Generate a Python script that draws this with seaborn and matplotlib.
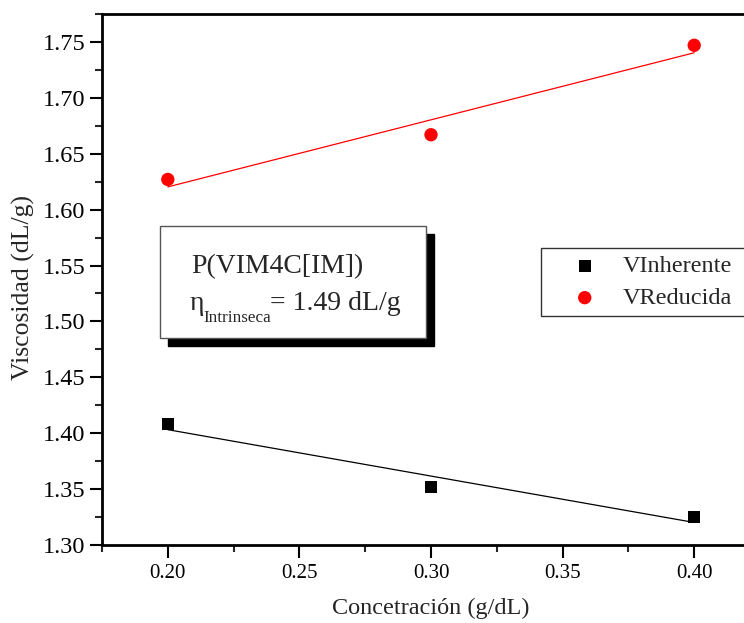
import numpy as np
import pandas as pd
import seaborn as sns
import matplotlib
matplotlib.use("Agg")
import matplotlib.pyplot as plt
from matplotlib.patches import Rectangle
from matplotlib.ticker import MultipleLocator

conc = [0.20, 0.30, 0.40]
v_inherente = [1.408, 1.352, 1.325]
v_reducida = [1.627, 1.667, 1.747]
series_names = ["VInherente", "VReducida"]
x_ticks = [0.20, 0.25, 0.30, 0.35, 0.40]
y_ticks = [1.30, 1.35, 1.40, 1.45, 1.50, 1.55, 1.60, 1.65, 1.70, 1.75]

sns.set_style("white")
plt.rcParams["font.family"] = ["Liberation Serif", "DejaVu Serif"]

fig = plt.figure(figsize=(7.44, 6.23), dpi=100)
W, H = 744, 623
ax = fig.add_axes([102 / W, (623 - 545) / H, 658 / W, 531 / H])

sns.scatterplot(x=conc, y=v_inherente, marker="s", color="black", s=78,
                edgecolor="none", label=series_names[0], ax=ax, zorder=3)
sns.scatterplot(x=conc, y=v_reducida, marker="o", color="#ff0000", s=92,
                edgecolor="none", label=series_names[1], ax=ax, zorder=3)
sns.regplot(x=conc, y=v_inherente, scatter=False, ci=None, ax=ax,
            line_kws={"color": "black", "lw": 0.9})
sns.regplot(x=conc, y=v_reducida, scatter=False, ci=None, ax=ax,
            line_kws={"color": "#ff0000", "lw": 0.9})

ax.set_xlim(0.175, 0.425)
ax.set_ylim(1.30, 1.775)
ax.set_xticks(x_ticks)
ax.set_xticklabels([f"{v:.2f}" for v in x_ticks])
ax.set_yticks(y_ticks)
ax.set_yticklabels([f"{v:.2f}" for v in y_ticks])
ax.xaxis.set_minor_locator(MultipleLocator(0.025))
ax.yaxis.set_minor_locator(MultipleLocator(0.025))
ax.tick_params(axis="both", which="major", direction="out", length=9, width=1.5,
               colors="black", left=True, bottom=True)
ax.tick_params(axis="y", which="major", labelsize=17.5, pad=3)
ax.tick_params(axis="x", which="major", labelsize=15, pad=5)
ax.tick_params(axis="both", which="minor", direction="out", length=5, width=1.5,
               left=True, bottom=True)
for s in ax.spines.values():
    s.set_linewidth(2)
    s.set_color("black")

ax.set_xlabel("Concetración (g/dL)", fontsize=17.5, labelpad=10)
ax.set_ylabel("Viscosidad (dL/g)", fontsize=18.5)
ax.yaxis.set_label_coords((35 - 102) / 658, (545 - 287) / 531)

lx0 = (541 - 102) / 658
ltop = (545 - 248) / 531
leg = ax.legend(loc="upper left", bbox_to_anchor=(lx0, ltop - 0.2, (775 - 541) / 658, 0.2),
                mode="expand", frameon=True, fontsize=17.5, fancybox=False,
                borderpad=0.3, handlelength=3.0, handletextpad=0.05,
                labelspacing=0.4, borderaxespad=0)
leg.get_frame().set_edgecolor("black")
leg.get_frame().set_linewidth(1)

# annotation box with shadow
bx0, bx1 = (160 - 102) / 658, (426 - 102) / 658
by0, by1 = (545 - 338) / 531, (545 - 226) / 531
dx, dy = 8 / 658, 8 / 531
ax.add_patch(Rectangle((bx0 + dx, by0 - dy), bx1 - bx0, by1 - by0, transform=ax.transAxes,
                       facecolor="black", edgecolor="black", zorder=4))
ax.add_patch(Rectangle((bx0, by0), bx1 - bx0, by1 - by0, transform=ax.transAxes,
                       facecolor="white", edgecolor="#555555", lw=1, zorder=5))

def px(x, y):
    return x / W, 1 - y / H

fig.text(*px(191, 273), "P(VIM4C[IM])", fontsize=20, va="baseline", ha="left", zorder=6)
fig.text(*px(190, 310), "η", fontsize=20, va="baseline", ha="left", zorder=6)
fig.text(*px(203, 322), "Intrinseca", fontsize=12.3, va="baseline", ha="left", zorder=6)
fig.text(*px(270, 310), "= 1.49 dL/g", fontsize=20, va="baseline", ha="left", zorder=6)

fig.savefig("out.png", dpi=100)
